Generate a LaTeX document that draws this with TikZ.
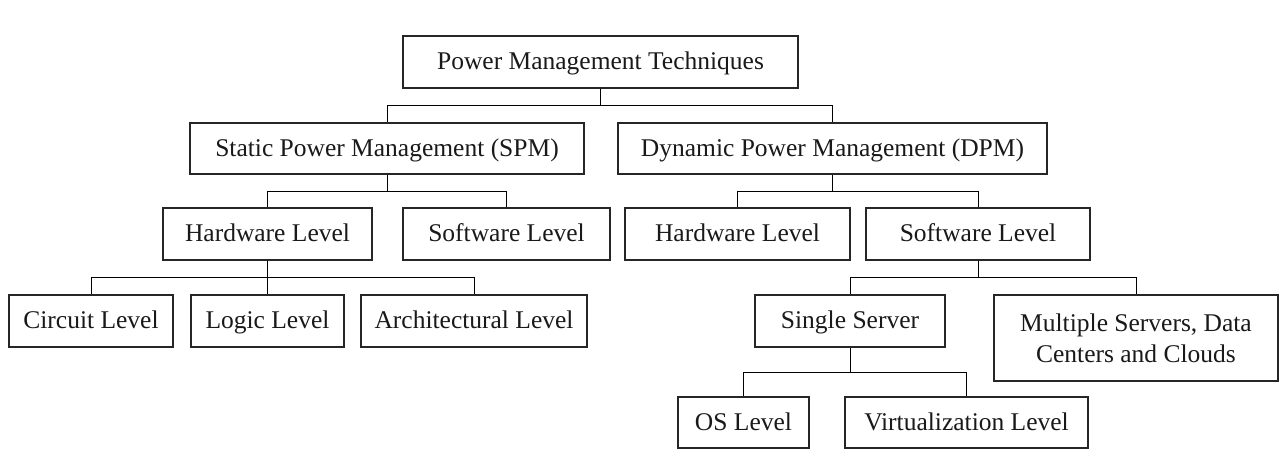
\documentclass[tikz,border=0pt]{standalone}
\usepackage{fontspec}
\setmainfont{Liberation Serif}
\usetikzlibrary{calc}
\begin{document}
\begin{tikzpicture}[x=1pt,y=-1pt,
  box/.style={draw=black!85, line width=1.3pt, inner sep=0pt, align=center,
    font=\fontsize{25.5}{30.6}\selectfont, text=black!90},
  onebox/.style={box, text height=17pt, text depth=1pt},
  tree/.style={draw=black!85, line width=1.4pt,
    to path={(\tikztostart) -- ($(\tikztostart)!0.5!(\tikztostart|-\tikztotarget)$) -| (\tikztotarget)}}]
\useasboundingbox (0,0) rectangle (1288,454);
\node[onebox, minimum width=395pt, minimum height=52pt] (top) at (600.5,62) {Power Management Techniques};
\node[onebox, minimum width=394pt, minimum height=51pt] (spm) at (387,148.5) {Static Power Management (SPM)};
\node[onebox, minimum width=429pt, minimum height=51pt] (dpm) at (832.5,148.5) {Dynamic Power Management (DPM)};
\node[onebox, minimum width=209pt, minimum height=52pt] (hwl) at (267.5,234) {Hardware Level};
\node[onebox, minimum width=207pt, minimum height=52pt] (swl) at (506.5,234) {Software Level};
\node[onebox, minimum width=225pt, minimum height=52pt] (hwr) at (737.5,234) {Hardware Level};
\node[onebox, minimum width=224pt, minimum height=52pt] (swr) at (978,234) {Software Level};
\node[onebox, minimum width=164pt, minimum height=52pt] (circ) at (91,321) {Circuit Level};
\node[onebox, minimum width=153pt, minimum height=52pt] (logic) at (267.5,321) {Logic Level};
\node[onebox, minimum width=226pt, minimum height=52pt] (arch) at (474,321) {Architectural Level};
\node[onebox, minimum width=190pt, minimum height=52pt] (single) at (850,321) {Single Server};
\node[box, minimum width=284pt, minimum height=86pt] (multi) at (1136,338) {Multiple Servers, Data\\Centers and Clouds};
\node[onebox, minimum width=131pt, minimum height=51pt] (os) at (743.5,422.5) {OS Level};
\node[onebox, minimum width=243pt, minimum height=51pt] (virt) at (966.5,422.5) {Virtualization Level};
\draw (top.south) to[tree] (spm.north);
\draw (top.south) to[tree] (dpm.north);
\draw (spm.south) to[tree] (hwl.north);
\draw (spm.south) to[tree] (swl.north);
\draw (dpm.south) to[tree] (hwr.north);
\draw (dpm.south) to[tree] (swr.north);
\draw (hwl.south) to[tree] (circ.north);
\draw (hwl.south) to[tree] (logic.north);
\draw (hwl.south) to[tree] (arch.north);
\draw (swr.south) to[tree] (single.north);
\draw (swr.south) to[tree] (multi.north);
\draw (single.south) to[tree] (os.north);
\draw (single.south) to[tree] (virt.north);
\end{tikzpicture}
\end{document}
